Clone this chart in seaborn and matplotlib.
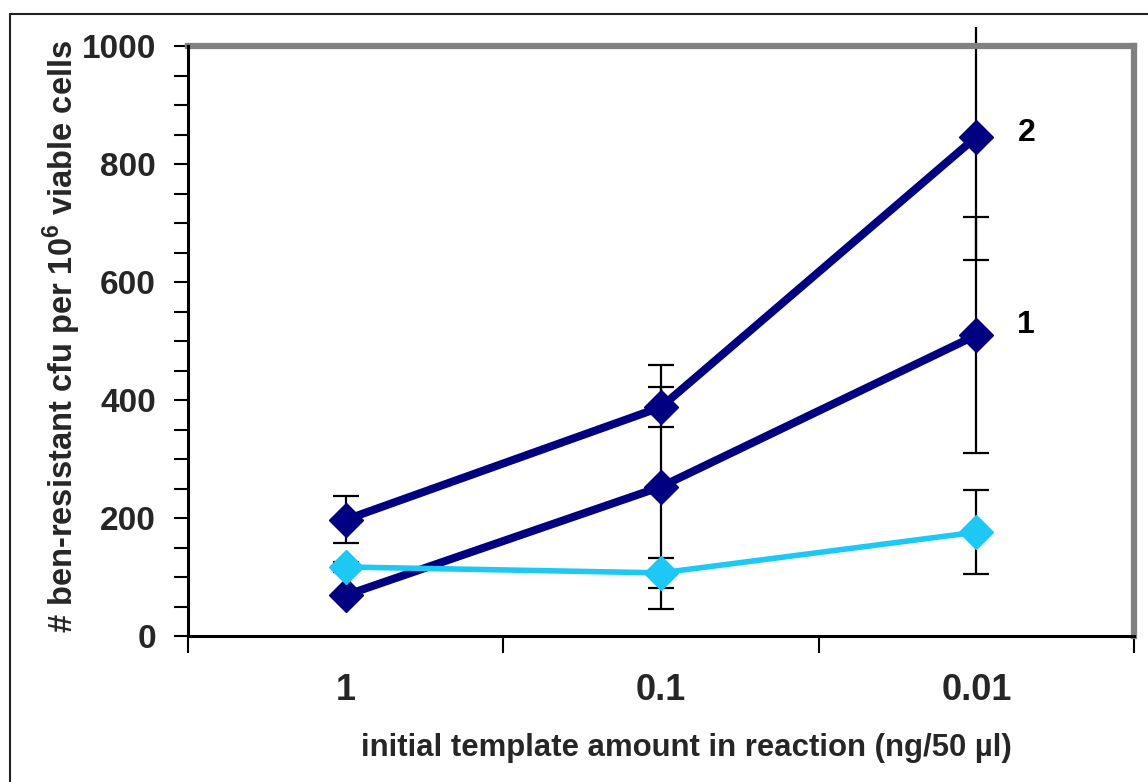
import numpy as np
import pandas as pd
import matplotlib
matplotlib.use("Agg")
import matplotlib.pyplot as plt
from matplotlib.lines import Line2D
from matplotlib.transforms import Bbox, TransformedBbox
from matplotlib.ticker import FixedLocator, NullFormatter
import seaborn as sns

# ---------------- data ----------------
categories = ["1", "0.1", "0.01"]
series_2 = [197, 388, 846]
series_2_err = [40, 34, 209]
series_1 = [69, 253, 510]
series_1_err = [4, 207, 200]
series_c = [117, 107, 176]
series_c_err = [8, 26, 71]
y_ticks = [0, 200, 400, 600, 800, 1000]
series_labels = ["2", "1"]

navy = "#000080"
cyan = "#1EC8F5"

sns.set_theme(style="white")
plt.rcParams["font.family"] = ["Liberation Sans", "DejaVu Sans"]
plt.rcParams["mathtext.fontset"] = "custom"
plt.rcParams["mathtext.rm"] = "Liberation Sans:bold"
plt.rcParams["mathtext.bf"] = "Liberation Sans:bold"

W, H = 1148, 782
fig = plt.figure(figsize=(W / 100, H / 100), dpi=100)
fig.patch.set_facecolor("white")
ax = fig.add_axes([188 / W, 1 - 636 / H, (1134 - 188) / W, (636 - 46) / H])

df = pd.DataFrame({
    "cat": categories * 3,
    "value": series_2 + series_1 + series_c,
    "series": ["s2"] * 3 + ["s1"] * 3 + ["c"] * 3,
})
pos = np.arange(len(categories))

# error bars (beneath markers)
clip_box = TransformedBbox(Bbox([[0, 0], [1, 1 - 27 / H]]), fig.transFigure)
for vals, errs in [(series_2, series_2_err), (series_1, series_1_err), (series_c, series_c_err)]:
    eb = ax.errorbar(pos, vals, yerr=errs, fmt="none", ecolor="black",
                     elinewidth=1.6, capsize=9.5, capthick=1.6, zorder=1, clip_on=False)
    for art in list(eb.lines[1]) + list(eb.lines[2]):
        art.set_clip_box(clip_box)
        art.set_clip_on(True)

for key, col, lw in [("s2", navy, 5.8), ("s1", navy, 5.8), ("c", cyan, 4.0)]:
    sub = df[df["series"] == key]
    sns.lineplot(data=sub, x="cat", y="value", color=col, linewidth=lw, marker="D",
                 markersize=17, markeredgecolor=col, markeredgewidth=1,
                 sort=False, ax=ax, zorder=3, clip_on=False)

# series labels
ax.annotate(series_labels[0], (pos[-1], series_2[-1]), xytext=(36, 3), textcoords="offset points",
            ha="center", va="center", fontsize=23, fontweight="bold", color="black")
ax.annotate(series_labels[1], (pos[-1], series_1[-1]), xytext=(36, 7), textcoords="offset points",
            ha="center", va="center", fontsize=23, fontweight="bold", color="black")

# axes limits & ticks
ax.set_xlim(-0.5, len(categories) - 0.5)
ax.set_ylim(0, 1000)
ax.set_yticks(y_ticks)
ax.set_yticklabels([str(t) for t in y_ticks])
ax.yaxis.set_minor_locator(FixedLocator(np.arange(0, 1001, 50)))
ax.tick_params(axis="y", which="both", direction="out", length=10, width=1.5,
               color="black", left=True, pad=13)
ax.tick_params(axis="y", which="major", labelsize=24)
for t in ax.get_yticklabels():
    t.set_fontweight("bold")

ax.set_xticks(np.arange(-0.5, len(categories), 1.0))
ax.set_xticklabels([])
ax.xaxis.set_minor_locator(FixedLocator(pos))
ax.xaxis.set_minor_formatter(NullFormatter())
ax.tick_params(axis="x", which="major", direction="out", length=12, width=1.5,
               color="black", bottom=True)
ax.tick_params(axis="x", which="minor", length=0, bottom=False)
for p, lab in zip(pos, categories):
    ax.text(p, -0.092, lab, transform=ax.get_xaxis_transform(), ha="center", va="center",
            fontsize=26, fontweight="bold")

ax.set_xlabel("")
ax.set_ylabel("")
fig.text(0.5 * (362 + 1010) / W, 1 - 748 / H, "initial template amount in reaction (ng/50 µl)",
         ha="center", va="center", fontsize=22.4, fontweight="bold")
fig.text(62 / W, 1 - 336 / H, r"# ben-resistant cfu per 10$^{6}$ viable cells",
         ha="center", va="center", rotation=90, fontsize=23.5, fontweight="bold")

# frame: gray plot area border, black axis lines
for s in ["top", "right"]:
    ax.spines[s].set_color("#808080")
    ax.spines[s].set_linewidth(4.5)
for s in ["left", "bottom"]:
    ax.spines[s].set_color("black")
    ax.spines[s].set_linewidth(2.2)
    ax.spines[s].set_zorder(5)
ax.set_facecolor("white")

# outer chart border (top and left)
fig.add_artist(Line2D([10 / W, 1], [1 - 14 / H, 1 - 14 / H], transform=fig.transFigure,
                      color="#222222", linewidth=1.5))
fig.add_artist(Line2D([10 / W, 10 / W], [0, 1 - 14 / H], transform=fig.transFigure,
                      color="#222222", linewidth=1.5))

fig.savefig("out.png", dpi=100)
